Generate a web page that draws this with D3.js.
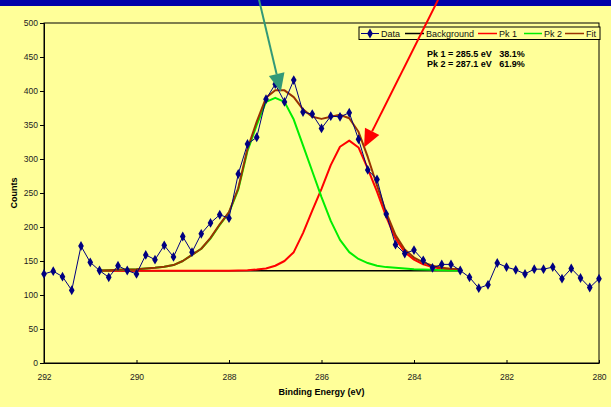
<!DOCTYPE html>
<html>
<head>
<meta charset="utf-8">
<script src="https://cdn.jsdelivr.net/npm/d3@7"></script>
<style>
  body { margin: 0; background: #ffff99; }
  svg { display: block; font-family: "Liberation Sans", Arial, sans-serif; }
</style>
</head>
<body>
<div id="chart"></div>
<script>
// measured spectrum
var energy = [292.0, 291.8, 291.6, 291.4, 291.2, 291.0, 290.8, 290.6, 290.4, 290.2,
              290.0, 289.8, 289.6, 289.4, 289.2, 289.0, 288.8, 288.6, 288.4, 288.2,
              288.0, 287.8, 287.6, 287.4, 287.2, 287.0, 286.8, 286.6, 286.4, 286.2,
              286.0, 285.8, 285.6, 285.4, 285.2, 285.0, 284.8, 284.6, 284.4, 284.2,
              284.0, 283.8, 283.6, 283.4, 283.2, 283.0, 282.8, 282.6, 282.4, 282.2,
              282.0, 281.8, 281.6, 281.4, 281.2, 281.0, 280.8, 280.6, 280.4, 280.2, 280.0];
var counts = [131, 135, 127, 107, 172, 148, 136, 126, 143, 136,
              131, 159, 152, 173, 156, 186, 163, 190, 206, 218,
              213, 278, 322, 332, 388, 410, 384, 416, 369, 366,
              345, 363, 362, 368, 329, 284, 270, 219, 174, 161,
              166, 151, 140, 145, 145, 136, 126, 110, 115, 147,
              141, 137, 131, 138, 138, 141, 124, 139, 125, 111, 124];

// fitted region
var fitEnergy = [290.8, 290.6, 290.4, 290.2, 290.0, 289.8, 289.6, 289.4, 289.2, 289.0,
                 288.8, 288.6, 288.4, 288.2, 288.0, 287.8, 287.6, 287.4, 287.2, 287.0,
                 286.8, 286.6, 286.4, 286.2, 286.0, 285.8, 285.6, 285.4, 285.2, 285.0,
                 284.8, 284.6, 284.4, 284.2, 284.0, 283.8, 283.6, 283.4, 283.2, 283.0];
var background = [135.5, 135.5, 135.5, 135.5, 135.5, 135.5, 135.5, 135.5, 135.5, 135.5,
                  135.5, 135.5, 135.5, 135.5, 135.5, 135.5, 135.5, 135.5, 135.5, 135.5,
                  135.5, 135.5, 135.5, 135.5, 135.5, 135.5, 135.5, 135.5, 135.5, 135.5,
                  135.5, 135.5, 135.5, 135.5, 135.5, 135.5, 135.5, 135.5, 135.5, 135.5];
var pk1 = [135.5, 135.5, 135.5, 135.5, 135.5, 135.5, 135.5, 135.5, 135.5, 135.5,
           135.5, 135.5, 135.5, 135.5, 135.5, 136, 136.5, 137.5, 139, 143,
           150, 163, 191, 224, 256, 291, 318, 327, 317, 286,
           252, 215, 183, 163, 152, 145, 141, 138.5, 137.5, 137];
var pk2 = [136, 136.5, 137, 137.5, 138, 139, 140, 141.5, 144, 150,
           159, 168, 183, 203, 221, 255, 312, 350, 384, 390,
           384, 358, 320, 282, 244, 209, 181, 163, 153, 147,
           143, 141, 140, 139, 138, 137.5, 137, 136.5, 136, 136];
var fit = [136, 136.5, 137, 137.5, 138, 139, 140, 141.5, 144, 150,
           159, 168, 184, 204, 222, 257, 315, 355, 390, 401,
           401, 391, 373, 362, 359, 362, 365, 360, 340, 303,
           261, 221, 188, 167, 155, 148, 143, 140, 138.5, 138];

var xTicks = [292, 290, 288, 286, 284, 282, 280];
var yTicks = [0, 50, 100, 150, 200, 250, 300, 350, 400, 450, 500];
var peakNotes = ["Pk 1 = 285.5 eV   38.1%", "Pk 2 = 287.1 eV   61.9%"];

var W = 611, H = 407;
var margin = {top: 23, right: 12, bottom: 44, left: 44};

var svg = d3.select("#chart").append("svg")
    .attr("width", W)
    .attr("height", H);

svg.append("rect").attr("width", W).attr("height", H).attr("fill", "#ffff99");
svg.append("rect").attr("width", W).attr("height", 6).attr("fill", "#0000aa");

var x = d3.scaleLinear().domain([292, 280]).range([margin.left, W - margin.right]);
var y = d3.scaleLinear().domain([0, 500]).range([H - margin.bottom, margin.top]);

// plot frame
svg.append("rect")
    .attr("x", x(292)).attr("y", y(500))
    .attr("width", x(280) - x(292)).attr("height", y(0) - y(500))
    .attr("fill", "none").attr("stroke", "#000").attr("stroke-width", 1);

// axes
var yAxis = svg.append("g")
    .attr("transform", "translate(" + x(292) + ",0)")
    .call(d3.axisLeft(y).tickValues(yTicks).tickSize(4).tickPadding(2));
var xAxis = svg.append("g")
    .attr("transform", "translate(0," + y(0) + ")")
    .call(d3.axisBottom(x).tickValues(xTicks).tickSizeInner(-3).tickSizeOuter(0).tickPadding(11));
[xAxis, yAxis].forEach(function(a) {
  a.select(".domain").attr("stroke", "#000");
  a.selectAll("line").attr("stroke", "#000");
  a.selectAll("text").attr("fill", "#222").style("font-size", "8.5px")
    .style("font-family", "'Liberation Sans', Arial, sans-serif");
});

svg.append("text")
    .attr("x", (x(292) + x(280)) / 2).attr("y", 395)
    .attr("text-anchor", "middle")
    .style("font-size", "9px").style("font-weight", "bold")
    .text("Binding Energy (eV)");
svg.append("text")
    .attr("transform", "translate(17," + (y(250)) + ") rotate(-90)")
    .attr("text-anchor", "middle")
    .style("font-size", "9px").style("font-weight", "bold")
    .text("Counts");

function line(xs, ys) {
  return d3.line()
    .x(function(d, i) { return x(xs[i]); })
    .y(function(d) { return y(d); })(ys);
}

var series = [
  {name: "Background", vals: background, color: "#000", w: 1.5},
  {name: "Pk 1", vals: pk1, color: "#ff0000", w: 2},
  {name: "Pk 2", vals: pk2, color: "#00ee00", w: 2},
  {name: "Fit", vals: fit, color: "#993300", w: 2}
];
series.forEach(function(s) {
  svg.append("path")
    .attr("d", line(fitEnergy, s.vals))
    .attr("fill", "none")
    .attr("stroke", s.color)
    .attr("stroke-width", s.w)
    .attr("stroke-linejoin", "round");
});

// data
svg.append("path")
    .attr("d", line(energy, counts))
    .attr("fill", "none").attr("stroke", "#000080").attr("stroke-width", 1);
var diamond = d3.symbol().type(d3.symbolDiamond).size(28);
svg.selectAll(".pt").data(counts).enter().append("path")
    .attr("class", "pt")
    .attr("d", diamond)
    .attr("transform", function(d, i) { return "translate(" + x(energy[i]) + "," + y(d) + ")"; })
    .attr("fill", "#000080");

// legend
var lg = svg.append("g");
lg.append("rect").attr("x", 359).attr("y", 27).attr("width", 241).attr("height", 12.5)
  .attr("fill", "#ffff99").attr("stroke", "#000").attr("stroke-width", 1);
var legendItems = [
  {name: "Data", color: "#000080", x0: 361, x1: 379},
  {name: "Background", color: "#000", x0: 405, x1: 424},
  {name: "Pk 1", color: "#ff0000", x0: 478, x1: 497},
  {name: "Pk 2", color: "#00ee00", x0: 524, x1: 542},
  {name: "Fit", color: "#993300", x0: 565, x1: 584}
];
legendItems.forEach(function(d) {
  lg.append("line").attr("x1", d.x0).attr("x2", d.x1).attr("y1", 33.5).attr("y2", 33.5)
    .attr("stroke", d.color).attr("stroke-width", d.name == "Data" ? 1 : 1.5);
  if (d.name == "Data") {
    lg.append("path").attr("d", diamond)
      .attr("transform", "translate(" + (d.x0 + d.x1) / 2 + ",33.5)").attr("fill", d.color);
  }
  lg.append("text").attr("x", d.x1 + 2).attr("y", 36.7)
    .style("font-size", "9px").attr("fill", "#111").text(d.name);
});

// peak notes
peakNotes.forEach(function(t, i) {
  svg.append("text").attr("x", 427).attr("y", 56.5 + i * 10.5)
    .attr("xml:space", "preserve")
    .style("font-size", "9px").style("font-weight", "bold").style("white-space", "pre")
    .text(t);
});

// arrows
function arrow(e0, v0, e1, v1, color) {
  var x0 = x(e0), y0 = y(v0), x1 = x(e1), y1 = y(v1);
  var a = Math.atan2(y1 - y0, x1 - x0), L = 18, hw = 8;
  var bx = x1 - L * Math.cos(a), by = y1 - L * Math.sin(a);
  svg.append("line").attr("x1", x0).attr("y1", y0).attr("x2", bx).attr("y2", by)
    .attr("stroke", color).attr("stroke-width", 2);
  svg.append("path")
    .attr("d", "M" + x1 + "," + y1 +
      "L" + (bx + hw * Math.sin(a)) + "," + (by - hw * Math.cos(a)) +
      "L" + (bx - hw * Math.sin(a)) + "," + (by + hw * Math.cos(a)) + "Z")
    .attr("fill", color);
}
arrow(287.35, 534, 286.88, 399, "#339977");
arrow(283.48, 534, 285.08, 317, "#ff0000");
</script>
</body>
</html>
